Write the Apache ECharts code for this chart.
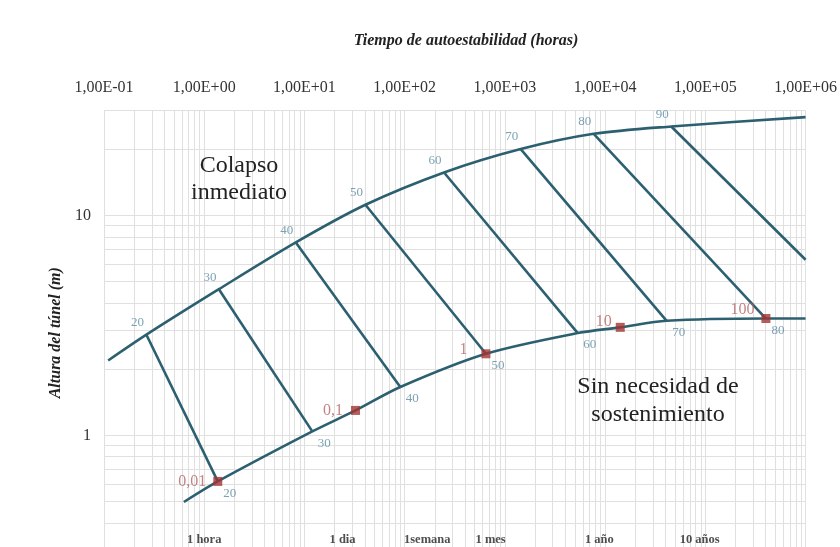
<!DOCTYPE html>
<html><head><meta charset="utf-8">
<script src="https://cdn.jsdelivr.net/npm/echarts@6/dist/echarts.min.js"></script>
<style>html,body{margin:0;padding:0;background:#fff}#c{width:840px;height:547px}</style>
</head><body><div id="c"></div>
<script>
// ---- data ----
const rmrUpper = [20, 30, 40, 50, 60, 70, 80, 90];
const upperT = [0.265, 1.40, 8.2, 40.6, 247, 1438, 7690, 45700];
const upperH = [2.87, 4.62, 7.54, 11.18, 15.68, 20.04, 23.5, 25.38];
const upperStart = [0.110, 2.19];
const upperEnd = [1e6, 28.0];

const rmrLower = [20, 30, 40, 50, 60, 70, 80];
const lowerT = [1.365, 11.98, 90.4, 646, 5330, 41100, 401700];
const lowerH = [0.618, 1.043, 1.66, 2.35, 2.92, 3.32, 3.40];

const lowerCurveT = [0.626, 1.365, 11.98, 32.3, 90.4, 646, 5330, 14150, 41100, 401700, 1e6];
const lowerCurveH = [0.498, 0.618, 1.043, 1.299, 1.66, 2.35, 2.92, 3.10, 3.32, 3.40, 3.40];

const diag90End = [1e6, 6.29];

const standUpLabels = ['0,01', '0,1', '1', '10', '100'];
const standUpT = [1.365, 32.3, 646, 14150, 401700];
const standUpH = [0.618, 1.299, 2.35, 3.10, 3.40];

const timeLabels = ['1 hora', '1 dia', '1semana', '1 mes', '1 año', '10 años'];
const timeValues = [1, 24, 168, 720, 8760, 87600];
const timeLabelH = 0.334;

const xRange = [0.1, 1e6];
const yRange = [0.311, 30];

// grid line values (log minor lines)
const xGrid = [];
for (let d = -1; d <= 5; d++) for (let k = 1; k <= 9; k++) xGrid.push(k * Math.pow(10, d));
xGrid.push(1e6);
const yGrid = [];
for (let d = -1; d <= 1; d++) for (let k = 1; k <= 9; k++) { const v = k * Math.pow(10, d); if (v >= yRange[0] && v <= 30 + 1e-9) yGrid.push(v); }

// ---- styles ----
const LINE = '#2c6070';
const SERIF = '"Liberation Serif", "Times New Roman", serif';
const redOffsets = [[-1, 0], [-2, 0], [-8, -4], [2, -6], [-1, -9]];

const zip = (a, b) => a.map((v, i) => [v, b[i]]);

const series = [];
series.push({
  type: 'line', data: [], silent: true, z: 1,
  markLine: {
    silent: true, symbol: 'none', animation: false, z: 1,
    label: { show: false },
    lineStyle: { color: '#e0e0e0', width: 1, type: 'solid' },
    data: xGrid.map(v => ({ xAxis: v })).concat(yGrid.map(v => ({ yAxis: v })))
  }
});
series.push({
  type: 'line', data: [upperStart].concat(zip(upperT, upperH), [upperEnd]),
  smooth: 0.3, showSymbol: false, z: 6, lineStyle: { color: LINE, width: 2.6 }
});
series.push({
  type: 'line', data: zip(lowerCurveT, lowerCurveH),
  smooth: 0.3, showSymbol: false, z: 6, lineStyle: { color: LINE, width: 2.6 }
});
rmrUpper.forEach((r, i) => {
  const end = i < lowerT.length ? [lowerT[i], lowerH[i]] : diag90End;
  series.push({
    type: 'line', data: [[upperT[i], upperH[i]], end],
    showSymbol: false, z: 6, lineStyle: { color: LINE, width: 2.6 }
  });
});
series.push({
  type: 'scatter', z: 7, symbolSize: 1, itemStyle: { color: 'transparent' },
  data: zip(upperT, upperH).map((p, i) => ({ value: p, name: String(rmrUpper[i]) })),
  label: { show: true, position: 'inside', offset: [-9, -12], formatter: p => p.name,
    color: '#5b8ba1', fontFamily: SERIF, fontSize: 13 }
});
series.push({
  type: 'scatter', z: 7, symbolSize: 1, itemStyle: { color: 'transparent' },
  data: zip(lowerT, lowerH).map((p, i) => ({ value: p, name: String(rmrLower[i]) })),
  label: { show: true, position: 'inside', offset: [12, 12], formatter: p => p.name,
    color: '#5b8ba1', fontFamily: SERIF, fontSize: 13 }
});
series.push({
  type: 'scatter', z: 8, symbol: 'rect', symbolSize: 9, itemStyle: { color: '#a33434' },
  data: zip(standUpT, standUpH).map((p, i) => ({ value: p, name: standUpLabels[i], label: { offset: redOffsets[i] } })),
  label: { show: true, position: 'left', distance: 6, formatter: p => p.name,
    color: '#b56464', fontFamily: SERIF, fontSize: 16 }
});
series.push({
  type: 'scatter', z: 7, symbolSize: 1, itemStyle: { color: 'transparent' },
  data: timeValues.map((t, i) => ({ value: [t, timeLabelH], name: timeLabels[i] })),
  label: { show: true, position: 'inside', formatter: p => p.name,
    color: '#222', fontFamily: SERIF, fontSize: 12.5, fontWeight: 'bold' }
});

const fmtE = v => {
  const e = Math.round(Math.log10(v));
  const s = e < 0 ? '-' : '+';
  const a = Math.abs(e);
  return '1,00E' + s + (a < 10 ? '0' : '') + a;
};

const chart = echarts.init(document.getElementById('c'), null, { renderer: 'canvas' });
chart.setOption({
  animation: false,
  backgroundColor: '#fff',
  grid: { left: 104, top: 110.5, width: 705, height: 436.5, containLabel: false },
  xAxis: {
    type: 'log', logBase: 10, min: xRange[0], max: xRange[1], position: 'top', splitNumber: 7,
    axisLine: { show: false }, axisTick: { show: false }, splitLine: { show: false },
    axisLabel: { formatter: fmtE, margin: 15, color: '#333', fontFamily: SERIF, fontSize: 16 }
  },
  yAxis: {
    type: 'log', logBase: 10, min: yRange[0], max: yRange[1],
    name: 'Altura del túnel (m)', nameLocation: 'middle', nameGap: 31,
    nameTextStyle: { fontFamily: SERIF, fontSize: 16, fontWeight: 'bold', fontStyle: 'italic', color: '#222', padding: [0, 8, 0, 0] },
    axisLine: { show: false }, axisTick: { show: false }, splitLine: { show: false },
    axisLabel: {
      formatter: v => { const l = Math.log10(v); return Math.abs(l - Math.round(l)) < 1e-6 ? String(Math.round(v)) : ''; },
      margin: 13, color: '#333', fontFamily: SERIF, fontSize: 16
    }
  },
  graphic: [
    { type: 'text', x: 466, y: 41, style: { text: 'Tiempo de autoestabilidad (horas)', align: 'center', verticalAlign: 'middle',
      font: 'italic bold 16px ' + SERIF, fill: '#222' } },
    { type: 'text', x: 239, y: 179, z: 10, style: { text: 'Colapso\ninmediato', align: 'center', verticalAlign: 'middle',
      font: '24px ' + SERIF, fill: '#222', lineHeight: 27 } },
    { type: 'text', x: 658, y: 401, z: 10, style: { text: 'Sin necesidad de\nsostenimiento', align: 'center', verticalAlign: 'middle',
      font: '24px ' + SERIF, fill: '#222', lineHeight: 28 } }
  ],
  series: series
});
</script>
</body></html>
